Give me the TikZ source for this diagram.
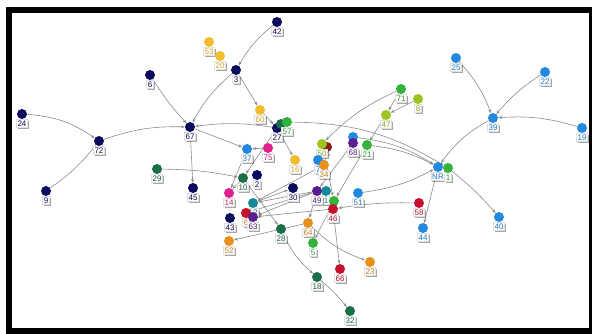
\documentclass[tikz,border=0pt]{standalone}
\usepackage{fontspec}
\setmainfont{Liberation Sans}
\usetikzlibrary{arrows.meta,shadows}
\definecolor{navy}{HTML}{0C0C5E}
\definecolor{gold}{HTML}{F0BE2C}
\definecolor{sky}{HTML}{2389E0}
\definecolor{pink}{HTML}{E0208C}
\definecolor{grn}{HTML}{33B23C}
\definecolor{lime}{HTML}{9CC420}
\definecolor{dkgrn}{HTML}{1A6E48}
\definecolor{teal}{HTML}{138A9A}
\definecolor{purp}{HTML}{5B1E8C}
\definecolor{red}{HTML}{C8102E}
\definecolor{orng}{HTML}{E8901E}
\definecolor{brick}{HTML}{8B1A12}
\pgfdeclarelayer{frame}
\pgfdeclarelayer{back}
\pgfsetlayers{frame,back,main}
\tikzset{
  dot/.style={circle, inner sep=0pt, minimum size=10pt, fill=#1},
  lab/.style={fill=white, draw=black!12, text=#1!85!black, inner sep=1.2pt,
    font=\fontsize{8}{8}\selectfont,
    drop shadow={shadow xshift=1.3pt, shadow yshift=-1.3pt, fill=black, opacity=0.35}},
  vx/.style 2 args={dot=#1, label={[lab=#1, label distance=0pt]below:#2}},
  link/.style={draw=black!45, line width=0.6pt, -{Stealth[length=4pt,width=3pt]}},
}
\begin{document}
\begin{tikzpicture}[x=1pt,y=-1pt]
\useasboundingbox (0,0) rectangle (592,334);
% frame
\begin{pgfonlayer}{frame}
\fill[black] (6,7) rectangle (592,334);
\fill[white] (12,13) rectangle (589,328);
\end{pgfonlayer}

% left and top group
\node[vx={navy}{42}] (n42) at (277,22) {};
\node[vx={gold}{53}] (n53) at (209,42) {};
\node[vx={gold}{20}] (n20) at (220,56) {};
\node[vx={navy}{3}] (n3) at (236,70) {};
\node[vx={navy}{6}] (n6) at (150,75) {};
\node[vx={navy}{24}] (n24) at (22,114) {};
\node[vx={navy}{72}] (n72) at (99,141) {};
\node[vx={navy}{67}] (n67) at (190,127) {};
\node[vx={navy}{9}] (n9) at (46,191) {};
\node[vx={dkgrn}{29}] (n29) at (157,169) {};
\node[vx={navy}{45}] (n45) at (193,188) {};
\node[vx={gold}{60}] (n60) at (260,110) {};
\node[vx={navy}{27}] (n27) at (277,128) {};
\node[dot=dkgrn] (n57b) at (281,124) {};
\node[vx={grn}{57}] (n57) at (287,122) {};
\node[vx={sky}{37}] (n37) at (247,149) {};
\node[vx={pink}{75}] (n75) at (268,148) {};
\node[vx={gold}{16}] (n16) at (295,160) {};

% middle column
\node[vx={brick}{}] (nbr) at (327,147) {};
\node[vx={lime}{50}] (n50) at (322,144) {};
\node[vx={sky}{7}] (n7) at (318,160) {};
\node[vx={orng}{34}] (n34) at (324,165) {};
\node[dot=sky] (n68b) at (353,137) {};
\node[vx={purp}{68}] (n68) at (353,143) {};
\node[vx={grn}{21}] (n21) at (367,145) {};
\node[vx={grn}{71}] (n71) at (401,89) {};
\node[vx={lime}{8}] (n8) at (418,99) {};
\node[vx={lime}{47}] (n47) at (386,115) {};

% right group
\node[vx={sky}{25}] (n25) at (456,58) {};
\node[vx={sky}{22}] (n22) at (545,72) {};
\node[vx={sky}{39}] (n39) at (493,118) {};
\node[vx={sky}{19}] (n19) at (582,128) {};
\node[vx={sky}{NR}] (nNR) at (438,167) {};
\node[vx={grn}{1}] (n1) at (448,168) {};
\node[vx={red}{58}] (n58) at (419,203) {};
\node[vx={sky}{44}] (n44) at (423,228) {};
\node[vx={sky}{40}] (n40) at (499,217) {};

% lower cluster
\node[vx={dkgrn}{10}] (n10) at (243,178) {};
\node[vx={navy}{2}] (n2) at (257,175) {};
\node[vx={pink}{14}] (n14) at (229,193) {};
\node[vx={navy}{30}] (n30) at (293,188) {};
\node[vx={teal}{1}] (nt) at (326,191) {};
\node[vx={purp}{49}] (n49) at (317,191) {};
\node[dot=grn] (n41) at (334,201) {};
\node[vx={red}{46}] (n46) at (333,209) {};
\node[vx={sky}{51}] (n51) at (358,193) {};
\node[vx={teal}{12}] (n12) at (253,203) {};
\node[vx={navy}{43}] (n43) at (230,218) {};
\node[vx={orng}{6}] (nrd) at (246,213) {};
\node[dot=red] at (246,213) {};
\node[vx={purp}{63}] (n63) at (253,217) {};
\node[vx={orng}{52}] (n52) at (229,241) {};
\node[vx={dkgrn}{28}] (n28) at (281,229) {};
\node[vx={orng}{64}] (n64) at (308,223) {};
\node[vx={grn}{5}] (n5) at (313,243) {};
\node[vx={orng}{23}] (n23) at (370,262) {};
\node[vx={red}{66}] (n66) at (340,269) {};
\node[vx={dkgrn}{18}] (n18) at (317,277) {};
\node[vx={dkgrn}{32}] (n32) at (350,311) {};

\begin{pgfonlayer}{back}
% connectors
\draw[link] (n24) to[bend left=15] (n72);
\draw[link] (n9) to[bend right=8] (n72);
\draw[link] (n72) to[bend left=10] (n67);
\draw[link] (n6) to[bend right=5] (n67);
\draw[link] (n3) to[bend right=10] (n67);
\draw[link] (n42) to[bend right=10] (n3);
\draw[link] (n3) -- (n60);
\draw[link] (n60) -- (n27);
\draw[link] (n27) to[bend right=8] (n67);
\draw[link] (n67) -- (n37);
\draw[link] (n67) -- (n45);
\draw[link] (n29) to[bend left=5] (n10);
\draw[link] (n57) to[bend left=15] (n1);
\draw[link] (n27) -- (n16);
\draw[link] (n27) -- (n10);
\draw[link] (n75) -- (n37);
\draw[link] (n37) -- (n14);
\draw[link] (n10) -- (n14);
\draw[link] (n71) to[bend right=10] (n50);
\draw[link] (n71) -- (n47);
\draw[link] (n8) -- (n47);
\draw[link] (n47) -- (n21);
\draw[link] (n21) to[bend left=10] (nNR);
\draw[link] (n68b) to[bend left=12] (nNR);
\draw[link] (n25) to[bend left=10] (n39);
\draw[link] (n22) to[bend right=8] (n39);
\draw[link] (n19) to[bend right=10] (n39);
\draw[link] (n39) to[bend right=12] (nNR);
\draw[link] (n1) to[bend left=5] (n40);
\draw[link] (nNR) -- (n44);
\draw[link] (n51) to[bend right=10] (nNR);
\draw[link] (n58) to[bend right=5] (n46);
\draw[link] (n46) -- (n66);
\draw[link] (n46) -- (n63);
\draw[link] (n21) -- (n41);
\draw[link] (n68) -- (n49);
\draw[link] (n50) -- (n41);
\draw[link] (n34) -- (n12);
\draw[link] (n49) -- (n12);
\draw[link] (n49) -- (n63);
\draw[link] (n49) -- (nrd);
\draw[link] (n12) -- (n30);
\draw[link] (n49) -- (n64);
\draw[link] (n41) -- (n5);
\draw[link] (n10) -- (n28);
\draw[link] (n28) to[bend right=12] (n18);
\draw[link] (n18) to[bend left=5] (n32);
\draw[link] (n64) -- (n52);
\draw[link] (n64) to[bend right=12] (n23);
\end{pgfonlayer}
\end{tikzpicture}
\end{document}
